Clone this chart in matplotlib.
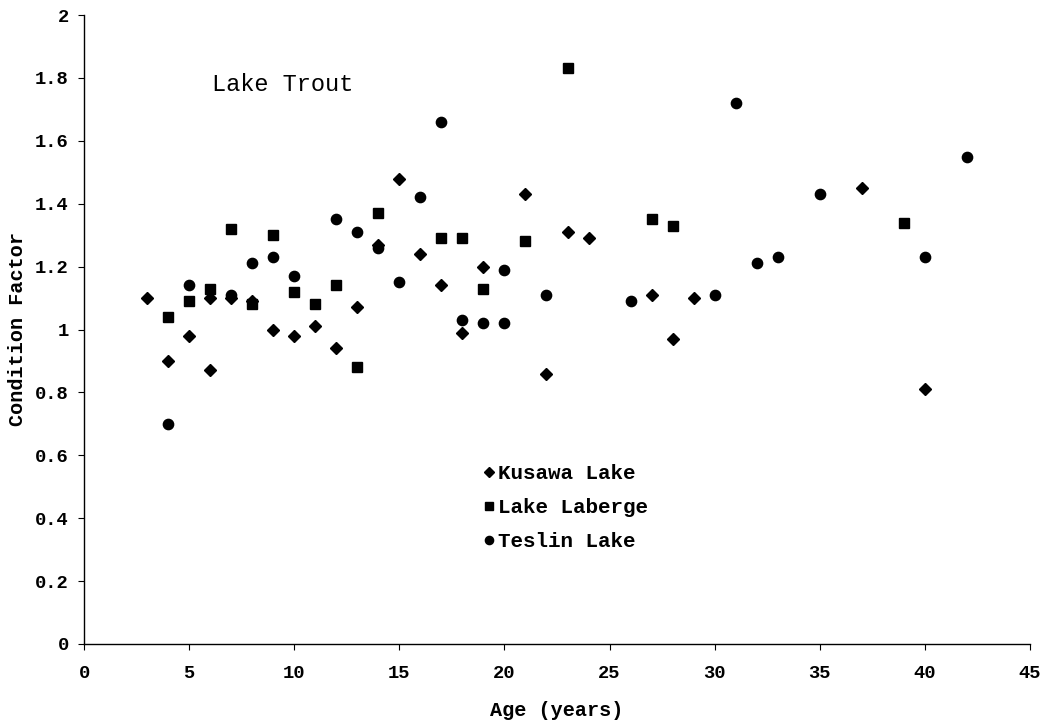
import matplotlib
matplotlib.use("Agg")
import matplotlib.pyplot as plt

# ---- data ----
kusawa_age = [3, 4, 5, 6, 6, 7, 8, 9, 10, 11, 12, 13, 14, 15, 16, 17, 18, 19, 21, 22, 23, 24, 27, 28, 29, 37, 40]
kusawa_cf = [1.10, 0.90, 0.98, 1.10, 0.87, 1.10, 1.09, 1.00, 0.98, 1.01, 0.94, 1.07, 1.27, 1.48, 1.24, 1.14, 0.99,
             1.20, 1.43, 0.86, 1.31, 1.29, 1.11, 0.97, 1.10, 1.45, 0.81]

laberge_age = [4, 5, 6, 7, 8, 9, 10, 11, 12, 13, 14, 17, 18, 19, 21, 23, 27, 28, 39]
laberge_cf = [1.04, 1.09, 1.13, 1.32, 1.08, 1.30, 1.12, 1.08, 1.14, 0.88, 1.37, 1.29, 1.29, 1.13, 1.28, 1.83, 1.35,
              1.33, 1.34]

teslin_age = [4, 5, 7, 8, 9, 10, 12, 13, 14, 15, 16, 17, 18, 19, 20, 20, 22, 26, 30, 31, 32, 33, 35, 40, 42]
teslin_cf = [0.70, 1.14, 1.11, 1.21, 1.23, 1.17, 1.35, 1.31, 1.26, 1.15, 1.42, 1.66, 1.03, 1.02, 1.19, 1.02, 1.11,
             1.09, 1.11, 1.72, 1.21, 1.23, 1.43, 1.23, 1.55]

series_names = ["Kusawa Lake", "Lake Laberge", "Teslin Lake"]
x_ticks = [0, 5, 10, 15, 20, 25, 30, 35, 40, 45]
y_ticks = [0, 0.2, 0.4, 0.6, 0.8, 1.0, 1.2, 1.4, 1.6, 1.8, 2.0]
y_tick_labels = ["0", "0.2", "0.4", "0.6", "0.8", "1", "1.2", "1.4", "1.6", "1.8", "2"]
title_text = "Lake Trout"
x_label = "Age (years)"
y_label = "Condition Factor"

FONT = ["Liberation Mono", "DejaVu Sans Mono"]

fig = plt.figure(figsize=(10.47, 7.25), dpi=100)
ax = fig.add_axes([84 / 1047, 1 - 644 / 725, (1030 - 84) / 1047, (644 - 15) / 725])

ax.plot(kusawa_age, kusawa_cf, linestyle="none", marker="D", ms=6.6, color="black", label=series_names[0])
ax.plot(laberge_age, laberge_cf, linestyle="none", marker="s", ms=6.8, color="black", label=series_names[1])
ax.plot(teslin_age, teslin_cf, linestyle="none", marker="o", ms=7.4, color="black", label=series_names[2])

ax.set_xlim(0, 45)
ax.set_ylim(0, 2)
ax.set_xticks(x_ticks)
ax.set_xticklabels([str(t) for t in x_ticks], fontfamily=FONT, fontweight="bold", fontsize=13.5)
ax.set_yticks(y_ticks)
ax.set_yticklabels(y_tick_labels, fontfamily=FONT, fontweight="bold", fontsize=13.5)

for s in ["top", "right"]:
    ax.spines[s].set_visible(False)
for s in ["left", "bottom"]:
    ax.spines[s].set_linewidth(1.0)
    ax.spines[s].set_color("black")

ax.tick_params(axis="x", direction="out", length=4, width=0.8, pad=11)
ax.tick_params(axis="y", direction="out", length=4, width=0.8, pad=7)

ax.set_xlabel(x_label, fontfamily=FONT, fontweight="bold", fontsize=14.5, labelpad=14)
ax.set_ylabel(y_label, fontfamily=FONT, fontweight="bold", fontsize=14.5, labelpad=6)

ax.text(6.1, 1.78, title_text, fontfamily=FONT, fontsize=17, va="center", ha="left", color="black")

leg = ax.legend(loc="upper left", bbox_to_anchor=(0.423, 0.286), frameon=False,
                prop={"family": FONT, "weight": "bold", "size": 15},
                handlelength=0.5, handletextpad=0.15, labelspacing=0.72, markerscale=0.8,
                borderpad=0, borderaxespad=0)

fig.savefig("out.png", dpi=100, facecolor="white")
